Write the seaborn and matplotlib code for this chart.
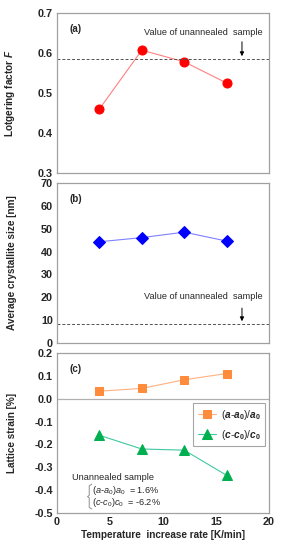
import matplotlib
matplotlib.use("Agg")
import matplotlib.pyplot as plt
import seaborn as sns
import pandas as pd
import numpy as np
from matplotlib.ticker import MultipleLocator

sns.set_theme(style="white")
FONT = 'Liberation Sans'
plt.rcParams['font.family'] = [FONT, 'DejaVu Sans']
plt.rcParams['mathtext.fontset'] = 'custom'
plt.rcParams['mathtext.rm'] = FONT
plt.rcParams['mathtext.it'] = FONT + ':italic'
plt.rcParams['mathtext.bf'] = FONT + ':bold'
plt.rcParams['mathtext.bfit'] = FONT + ':bold:italic'

rate = [4, 8, 12, 16]
lotgering = [0.460, 0.607, 0.578, 0.525]
lotgering_ref = 0.585
size_nm = [44.3, 46.1, 48.5, 44.6]
size_ref = 8.3
strain_a = [0.033, 0.045, 0.083, 0.110]
strain_c = [-0.160, -0.220, -0.225, -0.335]

fig = plt.figure(figsize=(2.86, 5.5), dpi=100)
W, H = 286, 550
def ax_rect(l, t, r, b):
    return [l / W, 1 - b / H, (r - l) / W, (b - t) / H]

ax1 = fig.add_axes(ax_rect(57, 13, 269, 173))
ax2 = fig.add_axes(ax_rect(57, 183, 269, 343))
ax3 = fig.add_axes(ax_rect(57, 353, 269, 513))

frame_col = '#a0a0a0'
TICK_FS = 7.8
LAB_FS = 7.2
ANN_FS = 6.6
for ax in (ax1, ax2, ax3):
    for s in ax.spines.values():
        s.set_color(frame_col)
        s.set_linewidth(0.9)
    ax.set_xlim(0, 20)
    ax.xaxis.set_major_locator(MultipleLocator(5))
    ax.tick_params(axis='both', which='both', direction='in', color='#707070',
                   labelsize=TICK_FS, pad=3, length=3, width=0.7)
    ax.tick_params(axis='x', which='both', top=False)
    ax.tick_params(axis='y', which='both', right=False)

lab_kw = dict(fontsize=LAB_FS, fontweight='bold')
ann_kw = dict(fontsize=ANN_FS)

df1 = pd.DataFrame({'rate': rate, 'F': lotgering})
sns.lineplot(data=df1, x='rate', y='F', ax=ax1, color='#ff8080', lw=0.8,
             marker='o', markersize=6.5, markerfacecolor='#ff0000',
             markeredgecolor='#ff0000')
ax1.axhline(lotgering_ref, color='#505050', ls=(0, (3, 2)), lw=0.7)
ax1.set_ylim(0.3, 0.7)
ax1.yaxis.set_major_locator(MultipleLocator(0.1))
ax1.yaxis.set_minor_locator(MultipleLocator(0.05))
ax1.yaxis.set_major_formatter(matplotlib.ticker.FormatStrFormatter('%.1f'))
ax1.set_xticklabels([])
ax1.set_xlabel('')
ax1.set_ylabel(r'Lotgering factor $\mathbfit{F}$', **lab_kw)
ax1.text(0.06, 0.93, '(a)', transform=ax1.transAxes, fontsize=7, fontweight='bold', va='top')
ax1.annotate('', xy=(17.45, lotgering_ref), xytext=(17.45, 0.635),
             arrowprops=dict(arrowstyle='-|>', color='black', lw=0.7, mutation_scale=6))
ax1.text(19.4, 0.652, 'Value of unannealed  sample', ha='right', va='center', **ann_kw)

df2 = pd.DataFrame({'rate': rate, 'size': size_nm})
sns.lineplot(data=df2, x='rate', y='size', ax=ax2, color='#8080ff', lw=0.8,
             marker='D', markersize=5.8, markerfacecolor='#0000ff',
             markeredgecolor='#0000ff')
ax2.axhline(size_ref, color='#505050', ls=(0, (3, 2)), lw=0.7)
ax2.set_ylim(0, 70)
ax2.yaxis.set_major_locator(MultipleLocator(10))
ax2.set_xticklabels([])
ax2.set_xlabel('')
ax2.set_ylabel('Average crystallite size [nm]', **lab_kw)
ax2.text(0.06, 0.93, '(b)', transform=ax2.transAxes, fontsize=7, fontweight='bold', va='top')
ax2.annotate('', xy=(17.45, size_ref), xytext=(17.45, 16.5),
             arrowprops=dict(arrowstyle='-|>', color='black', lw=0.7, mutation_scale=6))
ax2.text(19.4, 20.3, 'Value of unannealed  sample', ha='right', va='center', **ann_kw)

ax3.axhline(0, color='#b0b0b0', lw=0.9)
sns.lineplot(x=rate, y=strain_a, ax=ax3, color='#ffb080', lw=0.8, marker='s', markersize=5.8,
             markerfacecolor='#ff8c3c', markeredgecolor='#ff8c3c',
             label=r'$(\mathbfit{a}$-$\mathbfit{a}_\mathbf{0})/\mathbfit{a}_\mathbf{0}$')
sns.lineplot(x=rate, y=strain_c, ax=ax3, color='#40c8a0', lw=0.8, marker='^', markersize=6.5,
             markerfacecolor='#00b050', markeredgecolor='#00b050',
             label=r'$(\mathbfit{c}$-$\mathbfit{c}_\mathbf{0})/\mathbfit{c}_\mathbf{0}$')
ax3.set_ylim(-0.5, 0.2)
ax3.yaxis.set_major_locator(MultipleLocator(0.1))
ax3.yaxis.set_minor_locator(MultipleLocator(0.05))
ax3.yaxis.set_major_formatter(matplotlib.ticker.FormatStrFormatter('%.1f'))
ax3.set_xlabel('Temperature  increase rate [K/min]', labelpad=2, **lab_kw)
ax3.set_ylabel('Lattice strain [%]', **lab_kw)
ax3.text(0.06, 0.93, '(c)', transform=ax3.transAxes, fontsize=7, fontweight='bold', va='top')
leg = ax3.legend(loc='upper right', bbox_to_anchor=(0.983, 0.685), fontsize=7.3,
                 frameon=True, fancybox=False, edgecolor='#909090',
                 handlelength=1.8, borderpad=0.45, labelspacing=0.55, handletextpad=0.5,
                 borderaxespad=0.0)
leg.get_frame().set_linewidth(0.8)
ax3.text(1.4, -0.343, 'Unannealed sample', va='center', **ann_kw)
# brace drawn in axes coordinates
bx, by0, by1 = 0.152, 0.025, 0.18
bym = (by0 + by1) / 2
ax3.plot([bx + 0.012, bx, bx, bx - 0.008, bx, bx, bx + 0.012],
         [by1, by1 - 0.01, bym + 0.008, bym, bym - 0.008, by0 + 0.01, by0],
         transform=ax3.transAxes, color='#909090', lw=0.7)
ax3.text(3.3, -0.401, r'$(\mathit{a}$-$\mathit{a}_0)\mathit{a}_0$  = 1.6%', va='center', **ann_kw)
ax3.text(3.3, -0.455, r'$(\mathit{c}$-$\mathit{c}_0)\mathit{c}_0$  = -6.2%', va='center', **ann_kw)

for ax in (ax1, ax2, ax3):
    for lab in ax.get_yticklabels() + ax.get_xticklabels():
        lab.set_fontweight('bold')
    ax.yaxis.set_label_coords(-0.19, 0.5)

fig.savefig('out.png', dpi=100)
